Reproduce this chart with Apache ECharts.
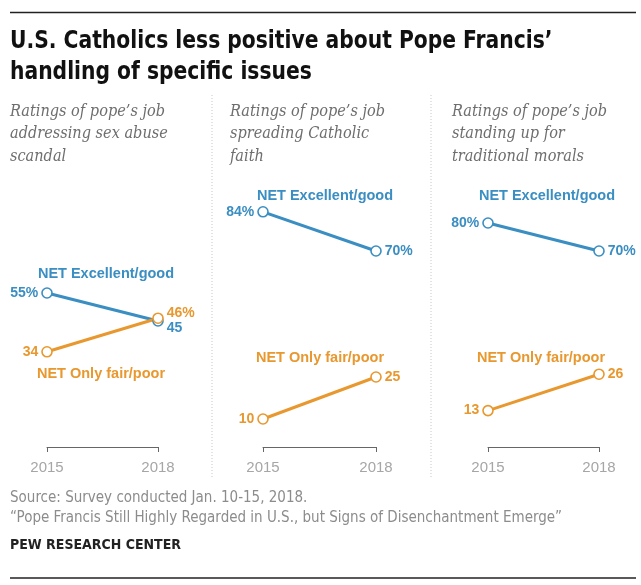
<!DOCTYPE html>
<html>
<head>
<meta charset="utf-8">
<script src="https://cdn.jsdelivr.net/npm/echarts@6/dist/echarts.min.js"></script>
<style>
html,body{margin:0;padding:0;background:#fff;}
#chart{width:641px;height:585px;}
</style>
</head>
<body>
<div id="chart"></div>
<script>
// ---- data ----
const years = ['2015', '2018'];
const panelTitles = [
  'Ratings of pope\u2019s job\naddressing sex abuse\nscandal',
  'Ratings of pope\u2019s job\nspreading Catholic\nfaith',
  'Ratings of pope\u2019s job\nstanding up for\ntraditional morals'
];
const seriesNames = ['NET Excellent/good', 'NET Only fair/poor'];
const excellentGood = [[55, 45], [84, 70], [80, 70]];
const onlyFairPoor = [[34, 46], [10, 25], [13, 26]];
// which labels carry a percent sign
const excellentPct = [[true, false], [true, true], [true, true]];
const fairPct = [[false, true], [false, false], [false, false]];

const BLUE = '#3a8ec2';
const ORANGE = '#e8982e';
const condensed = "'DejaVu Sans Condensed','Liberation Sans Narrow',sans-serif";
const sans = "'Liberation Sans','Arial',sans-serif";

const gridDefs = [
  {left: 47, width: 111},
  {left: 263, width: 113},
  {left: 488, width: 111}
];

const grids = [], xAxes = [], yAxes = [], series = [];
gridDefs.forEach((g, i) => {
  grids.push({left: g.left, width: g.width, top: 167, height: 280});
  xAxes.push({
    type: 'category', gridIndex: i, data: years, boundaryGap: false,
    axisLine: {show: true, lineStyle: {color: '#666', width: 1}},
    axisTick: {show: true, inside: false, length: 5, lineStyle: {color: '#666'}},
    axisLabel: {color: '#a6a6a6', fontSize: 15, margin: 13, fontFamily: sans},
    splitLine: {show: false}
  });
  yAxes.push({type: 'value', gridIndex: i, min: 0, max: 100, show: false});

  const mk = (vals, pct, color, name, offs) => ({
    type: 'line', name: name, xAxisIndex: i, yAxisIndex: i,
    data: vals.map((v, j) => ({
      value: v,
      label: {
        position: j === 0 ? 'left' : 'right',
        offset: offs[j],
        formatter: String(v) + (pct[j] ? '%' : '')
      }
    })),
    symbol: 'circle', symbolSize: 10,
    lineStyle: {color: color, width: 3},
    itemStyle: {color: '#fff', borderColor: color, borderWidth: 1.6},
    label: {show: true, color: color, fontWeight: 'bold', fontSize: 14, distance: 3, fontFamily: sans},
    emphasis: {disabled: true},
    animation: false
  });
  const eOff = i === 0 ? [[0, 0], [0, 7]] : [[0, 0], [0, 0]];
  const fOff = i === 0 ? [[0, 0], [0, -5]] : [[0, 0], [0, 0]];
  series.push(mk(excellentGood[i], excellentPct[i], BLUE, seriesNames[0], eOff));
  series.push(mk(onlyFairPoor[i], fairPct[i], ORANGE, seriesNames[1], fOff));
});

// annotation positions for series names
const namePos = [
  {e: [106, 274], f: [101, 374]},
  {e: [325, 196], f: [320, 358]},
  {e: [547, 196], f: [541, 358]}
];
const subX = [10, 230, 452];

const graphic = [
  {type: 'line', shape: {x1: 10, y1: 12.5, x2: 636, y2: 12.5}, style: {stroke: '#222', lineWidth: 1.5}},
  {type: 'line', shape: {x1: 10, y1: 578, x2: 636, y2: 578}, style: {stroke: '#222', lineWidth: 1.5}},
  {type: 'text', x: 10, y: 26, scaleX: 0.94, style: {text: 'U.S. Catholics less positive about Pope Francis\u2019\nhandling of specific issues',
    font: "bold 24px " + condensed, fill: '#111', lineHeight: 31, verticalAlign: 'top'}},
  {type: 'text', x: 10, y: 488, style: {text: 'Source: Survey conducted Jan. 10-15, 2018.\n\u201cPope Francis Still Highly Regarded in U.S., but Signs of Disenchantment Emerge\u201d',
    font: "15px " + condensed, fill: '#8c8c8c', lineHeight: 20, verticalAlign: 'top'}},
  {type: 'text', x: 10, y: 538, style: {text: 'PEW RESEARCH CENTER',
    font: "bold 14px " + condensed, fill: '#222', verticalAlign: 'top'}},
  {type: 'line', shape: {x1: 212, y1: 95, x2: 212, y2: 478}, style: {stroke: '#c8c8c8', lineWidth: 1, lineDash: [1, 2]}},
  {type: 'line', shape: {x1: 431, y1: 95, x2: 431, y2: 478}, style: {stroke: '#c8c8c8', lineWidth: 1, lineDash: [1, 2]}}
];
panelTitles.forEach((t, i) => {
  graphic.push({type: 'text', x: subX[i], y: 100, scaleX: 0.88, style: {text: t,
    font: "italic 16.5px 'DejaVu Serif','Liberation Serif',serif", fill: '#6e6e6e', lineHeight: 22.5, verticalAlign: 'top'}});
  graphic.push({type: 'text', x: namePos[i].e[0], y: namePos[i].e[1], style: {text: seriesNames[0],
    font: "bold 14.5px " + sans, fill: BLUE, align: 'center', verticalAlign: 'middle'}});
  graphic.push({type: 'text', x: namePos[i].f[0], y: namePos[i].f[1], style: {text: seriesNames[1],
    font: "bold 14.5px " + sans, fill: ORANGE, align: 'center', verticalAlign: 'middle'}});
});

const chart = echarts.init(document.getElementById('chart'), null, {renderer: 'canvas'});
chart.setOption({
  animation: false,
  backgroundColor: '#fff',
  grid: grids, xAxis: xAxes, yAxis: yAxes, series: series,
  graphic: graphic
});
</script>
</body>
</html>
